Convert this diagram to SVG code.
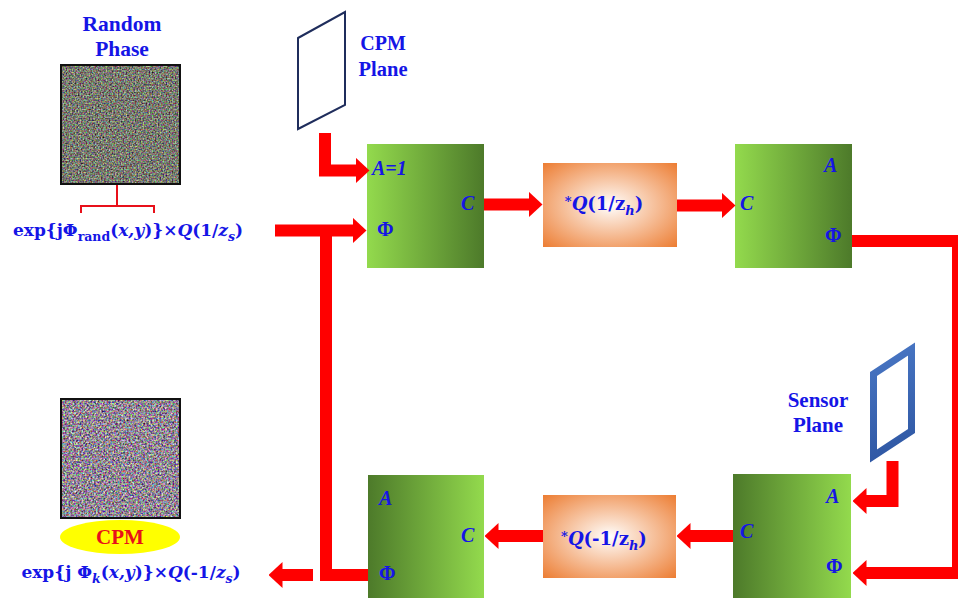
<svg xmlns="http://www.w3.org/2000/svg" width="958" height="607" viewBox="0 0 958 607">
<defs>
<style>
.t{font-family:"Liberation Serif","DejaVu Serif",serif;font-weight:bold;fill:#1515e6;}
.f{font-family:"DejaVu Serif","Liberation Serif",serif;}
.i{font-style:italic;}
.red{fill:#e8101a;}
.bar{fill:none;stroke:#ff0000;stroke-width:12;stroke-linejoin:miter;}
.arr{fill:none;stroke:#ff0000;stroke-width:12;marker-end:url(#ah);}
.frame{fill:none;stroke:#111;stroke-width:2;}
</style>
<marker id="ah" markerUnits="userSpaceOnUse" viewBox="0 0 14 26" refX="0.5" refY="13" markerWidth="14" markerHeight="26" orient="auto">
<path d="M0,0 L14,13 L0,26 z" fill="#ff0000"/>
</marker>
<linearGradient id="gL" x1="0" y1="0" x2="1" y2="0">
<stop offset="0" stop-color="#93da4d"/>
<stop offset="1" stop-color="#4d7a2a"/>
</linearGradient>
<linearGradient id="gR" x1="0" y1="0" x2="1" y2="0">
<stop offset="0" stop-color="#4d7a2a"/>
<stop offset="1" stop-color="#93da4d"/>
</linearGradient>
<radialGradient id="og" cx="0.5" cy="0.5" r="0.72">
<stop offset="0" stop-color="#ffffff"/>
<stop offset="0.2" stop-color="#fbe3d2"/>
<stop offset="1" stop-color="#ec7a2e"/>
</radialGradient>
<linearGradient id="sp" gradientUnits="userSpaceOnUse" x1="870" y1="343" x2="915" y2="462">
<stop offset="0" stop-color="#4a78c6"/>
<stop offset="1" stop-color="#2c54a0"/>
</linearGradient>
<filter id="n1" x="0" y="0" width="1" height="1" color-interpolation-filters="sRGB">
<feTurbulence type="fractalNoise" baseFrequency="0.65" numOctaves="1" seed="7"/>
<feColorMatrix type="matrix" values="1.5 0 0 0 -0.28  0 1.5 0 0 -0.27  0 0 1.5 0 -0.34  0 0 0 0 1"/>
<feColorMatrix type="saturate" values="0.6"/>
</filter>
<filter id="n2" x="0" y="0" width="1" height="1" color-interpolation-filters="sRGB">
<feTurbulence type="fractalNoise" baseFrequency="0.55" numOctaves="2" seed="19"/>
<feColorMatrix type="matrix" values="1.6 0 0 0 -0.22  0 1.6 0 0 -0.28  0 0 1.6 0 -0.20  0 0 0 0 1"/>
<feColorMatrix type="saturate" values="0.7"/>
</filter>
</defs>
<rect width="958" height="607" fill="#ffffff"/>

<g id="random-phase">
<text class="t" x="122" y="31" font-size="21.5" text-anchor="middle">Random</text>
<text class="t" x="122" y="56" font-size="21.5" text-anchor="middle">Phase</text>
<rect x="61" y="65" width="119" height="119" filter="url(#n1)"/>
<rect class="frame" x="61" y="65" width="119" height="119"/>
<path d="M117,185 V206 M81,213 V206 H154 V213" fill="none" stroke="#e8101a" stroke-width="2"/>
<text class="t f" x="128" y="236" font-size="17" text-anchor="middle">exp{jΦ<tspan font-size="12.5" dy="5">rand</tspan><tspan dy="-5">(</tspan><tspan class="i">x,y</tspan>)}×<tspan class="i">Q</tspan>(1/<tspan class="i">z</tspan><tspan class="i" font-size="12.5" dy="5">s</tspan><tspan dy="-5">)</tspan></text>
</g>

<g id="cpm-result">
<rect x="61" y="399" width="119" height="119" filter="url(#n2)"/>
<rect class="frame" x="61" y="399" width="119" height="119"/>
<ellipse cx="120" cy="537" rx="60" ry="17" fill="#ffff00"/>
<text class="t red" x="120" y="544" font-size="21" text-anchor="middle">CPM</text>
<text class="t f" x="131" y="578" font-size="17" text-anchor="middle">exp{j Φ<tspan class="i" font-size="12.5" dy="5">k</tspan><tspan dy="-5">(</tspan><tspan class="i">x,y</tspan>)}×<tspan class="i">Q</tspan>(-1/<tspan class="i">z</tspan><tspan class="i" font-size="12.5" dy="5">s</tspan><tspan dy="-5">)</tspan></text>
</g>

<g id="cpm-plane">
<polygon points="298,38 345,12 345,105 298,129" fill="#ffffff" stroke="#1f2d5c" stroke-width="2"/>
<text class="t" x="383" y="50" font-size="20" text-anchor="middle">CPM</text>
<text class="t" x="383" y="76" font-size="20.5" text-anchor="middle">Plane</text>
</g>

<g id="sensor-plane">
<polygon points="873.5,374 911.5,349 911.5,431 873.5,456" fill="none" stroke="url(#sp)" stroke-width="7" stroke-linejoin="miter"/>
<text class="t" x="818" y="407" font-size="21" text-anchor="middle">Sensor</text>
<text class="t" x="818" y="432" font-size="21" text-anchor="middle">Plane</text>
</g>

<g id="box-top-left">
<rect x="367" y="144" width="117" height="124" fill="url(#gL)"/>
<text class="t i" x="372" y="175" font-size="20">A=1</text>
<text class="t" x="377" y="236" font-size="20">Φ</text>
<text class="t i" x="461" y="210" font-size="20">C</text>
</g>

<g id="prop-forward">
<rect x="543" y="163" width="134" height="84" fill="url(#og)"/>
<text class="t f" x="604" y="210" font-size="18" text-anchor="middle"><tspan font-size="13" dy="-4">*</tspan><tspan class="i" dy="4">Q</tspan>(1/z<tspan class="i" font-size="13" dy="5">h</tspan><tspan dy="-5">)</tspan></text>
</g>

<g id="box-top-right">
<rect x="735" y="144" width="117" height="124" fill="url(#gL)"/>
<text class="t i" x="824" y="172" font-size="20">A</text>
<text class="t i" x="740" y="210" font-size="20">C</text>
<text class="t" x="825" y="242" font-size="20">Φ</text>
</g>

<g id="box-bottom-right">
<rect x="733" y="474" width="118" height="124" fill="url(#gR)"/>
<text class="t i" x="826" y="503" font-size="20">A</text>
<text class="t i" x="740" y="538" font-size="20">C</text>
<text class="t" x="826" y="573" font-size="20">Φ</text>
</g>

<g id="prop-backward">
<rect x="543" y="495" width="133" height="83" fill="url(#og)"/>
<text class="t f" x="604" y="545" font-size="18" text-anchor="middle"><tspan font-size="13" dy="-4">*</tspan><tspan class="i" dy="4">Q</tspan>(-1/z<tspan class="i" font-size="13" dy="5">h</tspan><tspan dy="-5">)</tspan></text>
</g>

<g id="box-bottom-left">
<rect x="368" y="475" width="116" height="123" fill="url(#gR)"/>
<text class="t i" x="379" y="505" font-size="20">A</text>
<text class="t i" x="461" y="542" font-size="20">C</text>
<text class="t" x="379" y="580" font-size="20">Φ</text>
</g>

<g id="connectors">
<path class="arr" d="M325,133 V170.5 H356"/>
<path class="arr" d="M275,230.5 H353"/>
<path class="bar" d="M368,575 H326 V236"/>
<path class="arr" d="M484,204.5 H529"/>
<path class="arr" d="M677,205.5 H722"/>
<path class="arr" d="M852,241 H958 V573 H866"/>
<path class="arr" d="M892.5,461 V501 H866"/>
<path class="arr" d="M733,536 H690"/>
<path class="arr" d="M543,536 H498"/>
<path class="arr" d="M313,575 H282"/>
</g>
</svg>
